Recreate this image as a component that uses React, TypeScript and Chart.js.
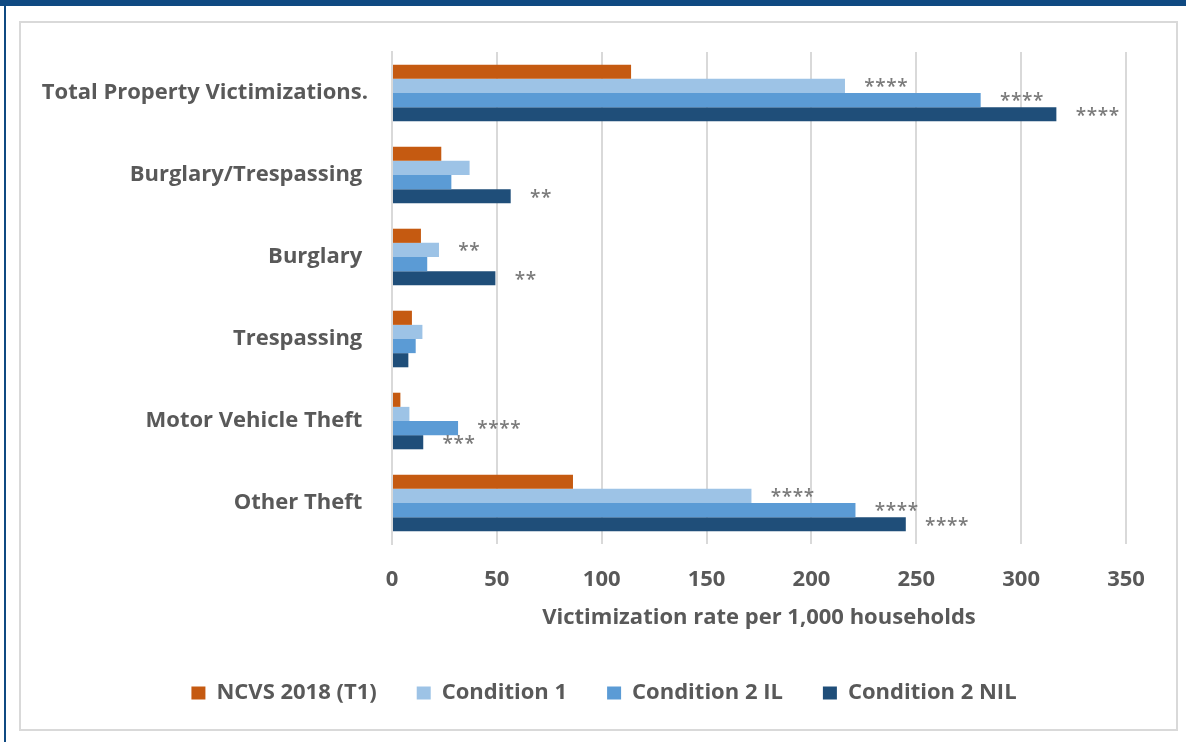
import React, { useEffect, useRef } from "react";
import { Chart, registerables } from "chart.js";

Chart.register(...registerables);

const categories = [
  "Total Property Victimizations.",
  "Burglary/Trespassing ",
  "Burglary ",
  "Trespassing ",
  "Motor Vehicle Theft ",
  "Other Theft ",
];
const seriesNames = ["NCVS 2018 (T1)", "Condition 1", "Condition 2 IL", "Condition 2 NIL"];
const ncvs2018 = [114, 23.5, 13.8, 9.5, 4.0, 86.3];
const condition1 = [216, 37, 22.4, 14.5, 8.3, 171.4];
const condition2IL = [280.7, 28.3, 16.8, 11.3, 31.5, 221];
const condition2NIL = [316.8, 56.6, 49.3, 7.8, 14.9, 245];
const seriesColors = ["#c55a11", "#9dc3e6", "#5b9bd5", "#1f4e79"];

const markSeries = [1, 2, 3, 3, 1, 3, 2, 3, 1, 2, 3];
const markCategory = [0, 0, 0, 1, 2, 2, 4, 4, 5, 5, 5];
const markText = ["****", "****", "****", "**", "**", "**", "****", "***", "****", "****", "****"];

const xMin = 0;
const xMax = 350;
const xStep = 50;
const xTitle = "Victimization rate per 1,000 households";

const FONT = "'Open Sans', sans-serif";
const TEXT = "#595959";
const GRID = "#d9d9d9";

const marksPlugin = {
  id: "sigMarks",
  afterDatasetsDraw(chart: any) {
    const ctx = chart.ctx;
    ctx.save();
    ctx.font = `600 19px ${FONT}`;
    ctx.fillStyle = "#7a7a7a";
    ctx.textBaseline = "middle";
    ctx.textAlign = "center";
    markText.forEach((t, i) => {
      const el = chart.getDatasetMeta(markSeries[i]).data[markCategory[i]];
      if (!el) return;
      for (let k = 0; k < t.length; k++) {
        ctx.fillText(t[k], el.x + 24.5 + k * 11, el.y + 2);
      }
    });
    ctx.restore();
  },
};

const legendShiftPlugin = {
  id: "legendShift",
  afterLayout(chart: any) {
    const lg = chart.legend;
    if (lg) {
      lg.left = 61;
      lg.width = lg.right - lg.left;
    }
  },
};

export default function App() {
  const ref = useRef<HTMLCanvasElement | null>(null);
  useEffect(() => {
    if (!ref.current) return;
    const data = {
      labels: categories,
      datasets: [ncvs2018, condition1, condition2IL, condition2NIL].map((d, i) => ({
        label: seriesNames[i],
        data: d,
        backgroundColor: seriesColors[i],
        borderWidth: 0,
        categoryPercentage: 0.69,
        barPercentage: 1,
      })),
    };
    const chart = new Chart(ref.current, {
      type: "bar",
      data,
      plugins: [marksPlugin, legendShiftPlugin],
      options: {
        indexAxis: "y",
        responsive: false,
        animation: false,
        layout: { padding: { left: 0, right: 50, top: 29, bottom: 15 } },
        scales: {
          x: {
            min: xMin,
            max: xMax,
            ticks: { stepSize: xStep, padding: 23, color: TEXT, font: { family: FONT, size: 22, weight: "bold" } },
            grid: { color: GRID, lineWidth: 2, drawTicks: false },
            border: { display: false },
            title: { display: true, text: xTitle, color: TEXT, padding: { top: 0, bottom: 11 }, font: { family: FONT, size: 22, weight: "bold" } },
            afterFit: (s: any) => {
              s.height = 98;
              s.paddingLeft = 0;
              s.paddingRight = 0;
            },
          },
          y: {
            ticks: { padding: 24, color: TEXT, font: { family: FONT, size: 22, weight: "bold" } },
            grid: { display: false, drawTicks: false },
            border: { display: true, color: GRID, width: 2 },
            afterFit: (s: any) => {
              s.width = 371;
              s.paddingTop = 0;
              s.paddingBottom = 0;
            },
          },
        },
        plugins: {
          legend: {
            position: "bottom",
            labels: { boxWidth: 14, boxHeight: 13, padding: 40, color: TEXT, font: { family: FONT, size: 22, weight: "bold" } },
          },
          tooltip: { enabled: false },
        },
      } as any,
    });
    return () => chart.destroy();
  }, []);
  return (
    <div style={{ position: "fixed", left: 0, top: 0, width: 1186, height: 742, background: "#fff", overflow: "hidden" }}>
      <div style={{ position: "absolute", left: 0, top: 0, width: 1186, height: 6, background: "#0f4a82" }} />
      <div style={{ position: "absolute", left: 4, top: 0, width: 2, height: 742, background: "#0f4a82" }} />
      <div style={{ position: "absolute", left: 19, top: 21, width: 1155, height: 706, border: `2px solid ${GRID}` }}>
        <canvas ref={ref} width={1155} height={706} style={{ display: "block", width: 1155, height: 706 }} />
      </div>
    </div>
  );
}
